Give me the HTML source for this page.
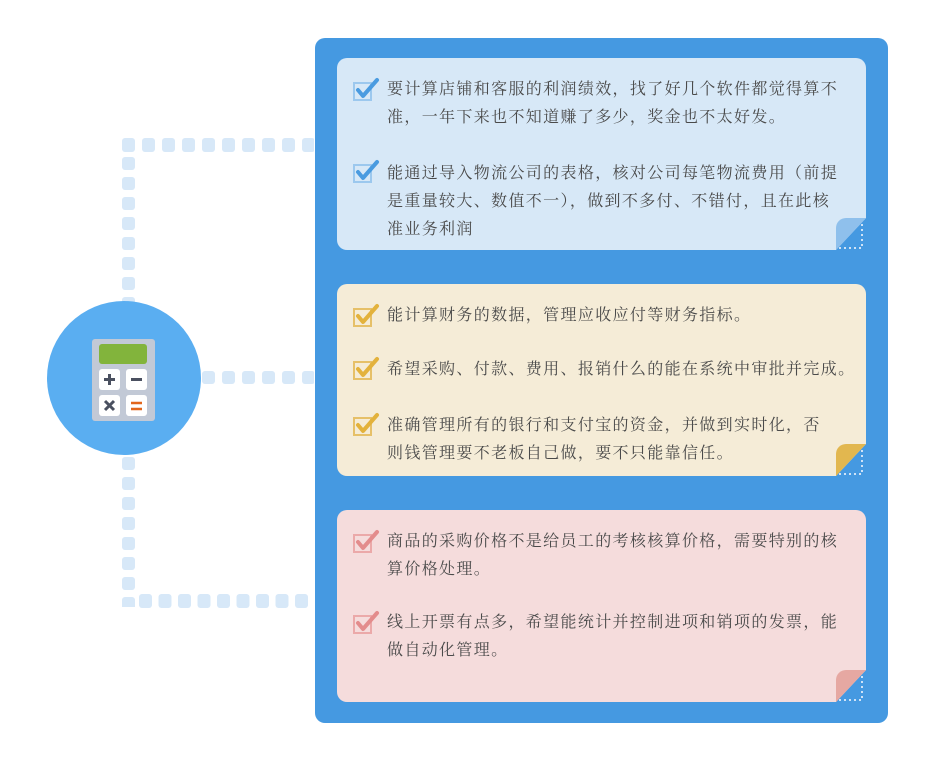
<!DOCTYPE html>
<html><head><meta charset="utf-8"><style>
body{margin:0;width:938px;height:768px;background:#fff;position:relative;overflow:hidden;font-family:"Liberation Serif","Noto Serif CJK SC",serif;}
.panel{position:absolute;left:315px;top:38px;width:573px;height:685px;background:#4599e1;border-radius:10px;}
.card{position:absolute;left:337px;width:529px;height:192px;border-radius:10px;clip-path:polygon(0 0,100% 0,100% calc(100% - 32px),calc(100% - 30px) 100%,0 100%);}
.t{position:absolute;left:387px;font-size:16px;letter-spacing:1.35px;line-height:28px;color:#4a4a4a;white-space:nowrap;}
</style></head><body>
<svg width="938" height="768" style="position:absolute;left:0;top:0">
<defs>
<pattern id="ph" patternUnits="userSpaceOnUse" x="122" y="138" width="20" height="20"><rect x="0" y="0" width="13" height="14" rx="3" fill="#d7e8f8"/></pattern>
<pattern id="pv" patternUnits="userSpaceOnUse" x="122" y="157" width="20" height="20"><rect x="0" y="0" width="13" height="13" rx="3" fill="#d7e8f8"/></pattern>
<pattern id="pb" patternUnits="userSpaceOnUse" x="139" y="594" width="19.5" height="20"><rect x="0" y="0" width="13" height="14" rx="3" fill="#d7e8f8"/></pattern>
<pattern id="pm" patternUnits="userSpaceOnUse" x="202" y="371" width="20" height="20"><rect x="0" y="0" width="13" height="13" rx="3" fill="#d7e8f8"/></pattern>
</defs>
<rect x="122" y="138" width="192" height="14" fill="url(#ph)"/>
<rect x="122" y="157" width="14" height="450" fill="url(#pv)"/>
<rect x="139" y="594" width="175" height="14" fill="url(#pb)"/>
<rect x="202" y="371" width="112" height="13" fill="url(#pm)"/>
<circle cx="124" cy="378" r="77" fill="#5aaef1"/>
<rect x="92" y="339" width="63" height="82" rx="3" fill="#c2c9d6"/>
<rect x="99" y="344" width="48" height="20" rx="3" fill="#82b43c"/>
<rect x="99" y="369" width="21" height="21" rx="3" fill="#fff"/>
<rect x="126" y="369" width="21" height="21" rx="3" fill="#fff"/>
<rect x="99" y="395" width="21" height="21" rx="3" fill="#fff"/>
<rect x="126" y="395" width="21" height="21" rx="3" fill="#fff"/>
<path d="M104 379.5h11M109.5 374v11" stroke="#4a5060" stroke-width="3"/>
<path d="M131 379.5h11" stroke="#4a5060" stroke-width="3"/>
<path d="M105 401l9 9M114 401l-9 9" stroke="#4a5060" stroke-width="3"/>
<path d="M131 403h11M131 409h11" stroke="#e2661c" stroke-width="2.5"/>
</svg>
<div class="panel"></div>
<div class="card" style="top:58px;background:#d7e8f7"></div>
<div class="card" style="top:284px;background:#f5ecd7"></div>
<div class="card" style="top:510px;background:#f5dcdc"></div>
<svg width="938" height="768" style="position:absolute;left:0;top:0">
<path d="M836 250V228a10 10 0 0 1 10-10h20z" fill="#8fc0ec"/><path d="M862 224v24h-24" fill="none" stroke="#cfe3f7" stroke-width="2" stroke-dasharray="2 3"/>
<path d="M836 476V454a10 10 0 0 1 10-10h20z" fill="#e2b74f"/><path d="M862 450v24h-24" fill="none" stroke="#cfe3f7" stroke-width="2" stroke-dasharray="2 3"/>
<path d="M836 702V680a10 10 0 0 1 10-10h20z" fill="#e6a8a2"/><path d="M862 676v24h-24" fill="none" stroke="#cfe3f7" stroke-width="2" stroke-dasharray="2 3"/>
<g fill="none" stroke-width="2">
<g stroke="#9cc8ee"><rect x="354" y="83" width="17" height="17"/><rect x="354" y="165" width="17" height="17"/></g>
<g stroke="#e6c068"><rect x="354" y="309" width="17" height="17"/><rect x="354" y="362" width="17" height="17"/><rect x="354" y="418" width="17" height="17"/></g>
<g stroke="#eba9a9"><rect x="354" y="535" width="17" height="17"/><rect x="354" y="616" width="17" height="17"/></g>
</g>
<g fill="none" stroke-width="4" stroke-linecap="round" stroke-linejoin="round">
<path d="M358 90l5 6 14-16" stroke="#4a9be0"/><path d="M358 172l5 6 14-16" stroke="#4a9be0"/>
<path d="M358 316l5 6 14-16" stroke="#e3b23c"/><path d="M358 369l5 6 14-16" stroke="#e3b23c"/><path d="M358 425l5 6 14-16" stroke="#e3b23c"/>
<path d="M358 542l5 6 14-16" stroke="#e38c8c"/><path d="M358 623l5 6 14-16" stroke="#e38c8c"/>
</g>
</svg>
<div class="t" style="top:76px">要计算店铺和客服的利润绩效，找了好几个软件都觉得算不<br>准，一年下来也不知道赚了多少，奖金也不太好发。</div>
<div class="t" style="top:160px">能通过导入物流公司的表格，核对公司每笔物流费用（前提<br>是重量较大、数值不一），做到不多付、不错付，且在此核<br>准业务利润</div>
<div class="t" style="top:302px">能计算财务的数据，管理应收应付等财务指标。</div>
<div class="t" style="top:356px">希望采购、付款、费用、报销什么的能在系统中审批并完成。</div>
<div class="t" style="top:412px">准确管理所有的银行和支付宝的资金，并做到实时化，否<br>则钱管理要不老板自己做，要不只能靠信任。</div>
<div class="t" style="top:528px">商品的采购价格不是给员工的考核核算价格，需要特别的核<br>算价格处理。</div>
<div class="t" style="top:609px">线上开票有点多，希望能统计并控制进项和销项的发票，能<br>做自动化管理。</div>
</body></html>
